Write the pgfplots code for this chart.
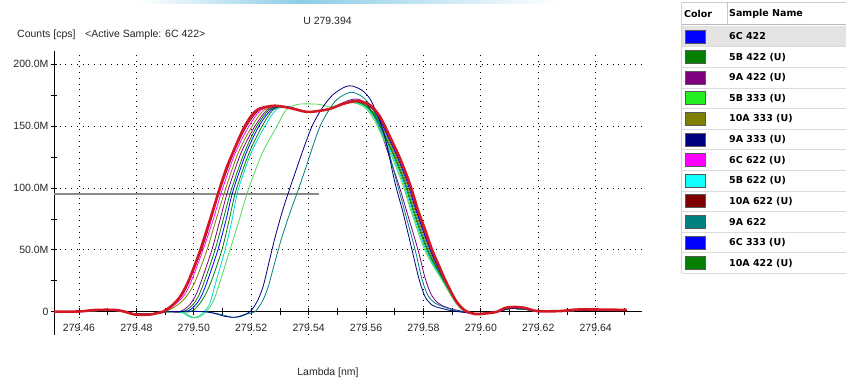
\documentclass[border=0pt]{standalone}
\usepackage{fontspec}
\setmainfont{Liberation Sans}
\newfontfamily\tabfont{DejaVu Sans}
\usepackage{pgfplots}
\pgfplotsset{compat=1.18}
\definecolor{cRed}{RGB}{210,25,35}
\definecolor{cGreen}{HTML}{008000}
\definecolor{cPurple}{HTML}{800080}
\definecolor{cLime}{HTML}{22EE22}
\definecolor{cLimeL}{HTML}{55D855}
\definecolor{cOlive}{HTML}{808000}
\definecolor{cNavy}{HTML}{000080}
\definecolor{cMag}{HTML}{FF00FF}
\definecolor{cCyan}{HTML}{10FFFF}
\definecolor{cCyanL}{HTML}{00D8D8}
\definecolor{cMaroon}{HTML}{800000}
\definecolor{cTeal}{HTML}{008080}
\definecolor{cBlue}{HTML}{0000FF}
\definecolor{cGrayLine}{HTML}{8A8A8A}
\definecolor{cSwoosh}{RGB}{140,205,230}
\begin{document}
\begin{tikzpicture}[x=1pt,y=1pt]
\path[use as bounding box] (0,0) rectangle (846,387);
\shade[left color=white, right color=cSwoosh] (140,383.5) rectangle (300,387);
\shade[left color=cSwoosh, right color=white] (300,383.5) rectangle (560,387);
\begin{axis}[
  at={(54pt,51.8pt)}, anchor=south west,
  scale only axis, width=588.2pt, height=284.5pt,
  xmin=279.4513, xmax=279.6562, ymin=-19, ymax=211,
  axis x line=middle, axis y line=left,
  axis line style={-, black, line width=0.9pt},
  xtick={279.46,279.48,279.50,279.52,279.54,279.56,279.58,279.60,279.62,279.64},
  xticklabels={279.46,279.48,279.50,279.52,279.54,279.56,279.58,279.60,279.62,279.64},
  minor xtick={279.47,279.49,279.51,279.53,279.55,279.57,279.59,279.61,279.63,279.65},
  ytick={0,50,100,150,200}, yticklabels={0,50.0M,100.0M,150.0M,200.0M},
  minor ytick={25,75,125,175},
  tick align=center, major tick length=7pt, minor tick length=7pt,
  tick style={black, line width=0.8pt},
  grid=major,
  major grid style={black, line width=0.8pt, dash pattern=on 0.8pt off 4.9pt},
  tick label style={font=\fontsize{10.5}{12}\selectfont, text=black!85},
  xticklabel style={yshift=-5.5pt},
  yticklabel style={xshift=1.5pt},
  every axis plot/.append style={smooth, tension=0.5, line width=0.8pt},
]
\addplot[cGrayLine, line width=1.9pt, sharp plot] coordinates {(279.4513,95) (279.5436,95)};
% 10A 622 (U)
\addplot[cMaroon] coordinates {(279.4513,0) (279.4603,0.2) (279.4673,1) (279.4725,1) (279.4760,0) (279.4795,-1.8) (279.4847,-1.8) (279.4875,-0.8)
 (279.4896,0) (279.4955,12) (279.4983,24) (279.5027,50) (279.5060,74) (279.5091,98) (279.5138,128) (279.5184,150) (279.5227,163) (279.5272,166)
 (279.5335,164.7) (279.5394,161.5) (279.5440,162.5) (279.5475,164) (279.5520,168)
 (279.5565,169.5) (279.5610,166.5) (279.5645,157) (279.5680,140.5) (279.5715,123.5) (279.5750,102.5) (279.5777,81.5) (279.5826,49.5) (279.5873,26) (279.5909,10) (279.5933,3) (279.5951,0)
 (279.5980,-1.5) (279.6032,-1) (279.6057,0) (279.6102,2.5) (279.6154,2) (279.6196,0.3) (279.6276,0.3) (279.6346,1) (279.6509,1)};
% 6C 622 (U)
\addplot[cMag] coordinates {(279.4513,0) (279.4603,0.2) (279.4673,1) (279.4725,1) (279.4760,0) (279.4795,-1.8) (279.4847,-1.8) (279.4875,-0.8)
 (279.4903,0) (279.4962,12) (279.4990,24) (279.5032,50) (279.5067,74) (279.5098,98) (279.5144,128) (279.5192,150) (279.5234,163) (279.5283,166)
 (279.5335,164.7) (279.5394,161.5) (279.5440,162.5) (279.5475,164) (279.5520,168)
 (279.5567,170.5) (279.5612,167) (279.5647,157.5) (279.5682,141) (279.5716,124) (279.5751,103) (279.5779,82) (279.5828,50) (279.5874,26) (279.5910,10) (279.5934,3) (279.5952,0)
 (279.5980,-1.5) (279.6032,-1) (279.6057,0) (279.6102,2.5) (279.6154,2) (279.6196,0.3) (279.6276,0.3) (279.6346,1) (279.6509,1)};
% 10A 333 (U)
\addplot[cOlive] coordinates {(279.4513,0) (279.4603,0.2) (279.4673,1) (279.4725,1) (279.4760,0) (279.4795,-1.8) (279.4847,-1.8) (279.4875,-0.8)
 (279.4900,0) (279.4941,5) (279.4973,12) (279.5004,24) (279.5046,50) (279.5077,74) (279.5109,98) (279.5154,128) (279.5203,150) (279.5245,163) (279.5293,166)
 (279.5335,164.7) (279.5394,161.5) (279.5440,162.5) (279.5475,164) (279.5520,168)
 (279.5559,169) (279.5604,166) (279.5639,156.5) (279.5674,140.5) (279.5708,123.5) (279.5743,102.5) (279.5771,81.5) (279.5820,49.5) (279.5870,26) (279.5907,10) (279.5931,3) (279.5950,0)
 (279.5980,-1.5) (279.6032,-1) (279.6057,0) (279.6102,2.5) (279.6154,2) (279.6196,0.3) (279.6276,0.3) (279.6346,1) (279.6509,1)};
% 9A 422 (U)
\addplot[cPurple] coordinates {(279.4513,0) (279.4603,0.2) (279.4673,1) (279.4725,1) (279.4760,0) (279.4795,-1.8) (279.4847,-1.8) (279.4875,-0.8) (279.4910,0)
 (279.4952,0) (279.4983,5) (279.5004,12) (279.5025,24) (279.5063,50) (279.5091,74) (279.5119,98) (279.5164,128) (279.5213,150) (279.5255,163) (279.5300,166)
 (279.5335,164.7) (279.5394,161.5) (279.5440,162.5) (279.5475,164) (279.5520,169)
 (279.5562,172) (279.5597,169) (279.5624,160) (279.5652,145) (279.5677,128) (279.5712,104) (279.5743,80) (279.5781,50) (279.5806,27) (279.5827,14) (279.5851,7) (279.5886,3) (279.5921,1) (279.5945,0)
 (279.5980,-1.5) (279.6032,-1) (279.6057,0) (279.6102,2.5) (279.6154,2) (279.6196,0.3) (279.6276,0.3) (279.6346,1) (279.6509,1)};
% 10A 422 (U)
\addplot[cGreen] coordinates {(279.4513,0) (279.4603,0.2) (279.4673,1) (279.4725,1) (279.4760,0) (279.4795,-1.8) (279.4847,-1.8) (279.4875,-0.8) (279.4910,0)
 (279.4962,0) (279.4994,5) (279.5015,12) (279.5036,24) (279.5074,50) (279.5102,74) (279.5130,98) (279.5175,128) (279.5220,150) (279.5262,163) (279.5307,166)
 (279.5335,164.7) (279.5394,161.5) (279.5440,162.5) (279.5475,164) (279.5520,168)
 (279.5555,170) (279.5600,166.5) (279.5635,157) (279.5670,140.5) (279.5704,123.5) (279.5739,102.5) (279.5767,81.5) (279.5816,49.5) (279.5868,26) (279.5906,10) (279.5931,3) (279.5950,0)
 (279.5980,-1.5) (279.6032,-1) (279.6057,0) (279.6102,2.5) (279.6154,2) (279.6196,0.3) (279.6276,0.3) (279.6346,1) (279.6509,1)};
% 6C 333 (U)
\addplot[cBlue] coordinates {(279.4513,0) (279.4603,0.2) (279.4673,1) (279.4725,1) (279.4760,0) (279.4795,-1.8) (279.4847,-1.8) (279.4875,-0.8) (279.4910,0)
 (279.4973,0) (279.5004,5) (279.5025,12) (279.5046,24) (279.5084,50) (279.5112,74) (279.5137,98) (279.5182,128) (279.5227,150) (279.5269,163) (279.5314,166)
 (279.5335,164.7) (279.5394,161.5) (279.5440,162.5) (279.5475,164) (279.5520,168)
 (279.5562,171) (279.5607,167.5) (279.5642,157.5) (279.5677,141) (279.5711,124) (279.5746,103) (279.5774,82) (279.5823,50) (279.5871,26) (279.5908,10) (279.5932,3) (279.5951,0)
 (279.5980,-1.5) (279.6032,-1) (279.6057,0) (279.6102,2.5) (279.6154,2) (279.6196,0.3) (279.6276,0.3) (279.6346,1) (279.6509,1)};
% 5B 422 (U)
\addplot[cGreen] coordinates {(279.4513,0) (279.4603,0.2) (279.4673,1) (279.4725,1) (279.4760,0) (279.4795,-1.8) (279.4847,-1.8) (279.4875,-0.8) (279.4910,0)
 (279.4987,0) (279.5015,5) (279.5036,12) (279.5060,24) (279.5098,50) (279.5123,74) (279.5147,98) (279.5192,128) (279.5238,150) (279.5276,163) (279.5321,166)
 (279.5394,161.5) (279.5440,162.5) (279.5475,164) (279.5520,168)
 (279.5552,170) (279.5597,166.5) (279.5632,157) (279.5667,140.5) (279.5701,123.5) (279.5736,102.5) (279.5764,81.5) (279.5813,49.5) (279.5866,26) (279.5906,10) (279.5930,3) (279.5950,0)
 (279.5980,-1.5) (279.6032,-1) (279.6057,0) (279.6102,2.5) (279.6154,2) (279.6196,0.3) (279.6276,0.3) (279.6346,1) (279.6509,1)};
% 5B 622 (U)
\addplot[cCyanL] coordinates {(279.4513,0) (279.4603,0.2) (279.4673,1) (279.4725,1) (279.4760,0) (279.4795,-1.8) (279.4847,-1.8) (279.4875,-0.8) (279.4910,0)
 (279.4952,0) (279.4976,-3) (279.4997,-5) (279.5018,-3.5) (279.5036,0) (279.5053,5) (279.5063,12) (279.5077,24) (279.5109,50) (279.5133,74) (279.5154,98) (279.5199,128) (279.5248,150) (279.5286,163) (279.5328,166)
 (279.5394,161.5) (279.5440,162.5) (279.5475,164) (279.5520,168)
 (279.5548,170) (279.5593,166.5) (279.5628,157) (279.5663,140.5) (279.5697,123.5) (279.5732,102.5) (279.5760,81.5) (279.5809,49.5) (279.5865,26) (279.5905,10) (279.5929,3) (279.5949,0)
 (279.5980,-1.5) (279.6032,-1) (279.6057,0) (279.6102,2.5) (279.6154,2) (279.6196,0.3) (279.6276,0.3) (279.6346,1) (279.6509,1)};
% 5B 333 (U)
\addplot[cLimeL] coordinates {(279.4513,0) (279.4603,0.2) (279.4673,1) (279.4725,1) (279.4760,0) (279.4795,-1.8) (279.4847,-1.8) (279.4875,-0.8) (279.4910,0)
 (279.4959,0) (279.4983,-3) (279.5004,-5) (279.5025,-3.5) (279.5043,0) (279.5060,5) (279.5074,12) (279.5091,24) (279.5126,50) (279.5158,74) (279.5189,98) (279.5238,128) (279.5290,150) (279.5321,163) (279.5360,167.5) (279.5405,168) (279.5440,167.5) (279.5475,165.5) (279.5520,168)
 (279.5545,169.5) (279.5590,166) (279.5625,156.5) (279.5660,140) (279.5694,123) (279.5729,102) (279.5757,81) (279.5806,49) (279.5863,26) (279.5904,10) (279.5928,3) (279.5949,0)
 (279.5980,-1.5) (279.6032,-1) (279.6057,0) (279.6102,2.5) (279.6154,2) (279.6196,0.3) (279.6276,0.3) (279.6346,1) (279.6509,1)};
% 9A 622
\addplot[cTeal] coordinates {(279.4513,0) (279.4603,0.2) (279.4673,1) (279.4725,1) (279.4760,0) (279.4795,-1.8) (279.4847,-1.8) (279.4875,-0.8) (279.4910,0) (279.4980,0.3)
 (279.5039,0) (279.5091,-2) (279.5133,-4.5) (279.5161,-4) (279.5189,-1.5) (279.5213,0) (279.5238,8) (279.5259,20) (279.5280,38) (279.5304,58) (279.5332,78) (279.5363,98) (279.5391,117) (279.5415,134) (279.5440,150) (279.5468,162) (279.5492,170) (279.5520,175) (279.5551,177.4)
 (279.5586,174) (279.5614,167) (279.5642,155) (279.5670,137) (279.5708,104) (279.5736,80) (279.5771,50) (279.5795,26) (279.5816,13) (279.5840,7) (279.5875,3.5) (279.5910,1) (279.5934,0)
 (279.5980,-1.5) (279.6032,-1) (279.6057,0) (279.6102,2.5) (279.6154,2) (279.6196,0.3) (279.6276,0.3) (279.6346,1) (279.6509,1)};
% 9A 333 (U)
\addplot[cNavy] coordinates {(279.4513,0) (279.4603,0.2) (279.4673,1) (279.4725,1) (279.4760,0) (279.4795,-1.8) (279.4847,-1.8) (279.4875,-0.8) (279.4910,0) (279.4980,0.3)
 (279.5039,0) (279.5074,-1.5) (279.5109,-3.8) (279.5144,-4.5) (279.5171,-2.8) (279.5196,0) (279.5220,8) (279.5241,20) (279.5262,40) (279.5283,60) (279.5307,80) (279.5332,98) (279.5360,117) (279.5384,133) (279.5412,150) (279.5440,162) (279.5464,170) (279.5485,175.5) (279.5509,179.5) (279.5530,182) (279.5551,182.5)
 (279.5586,179) (279.5614,172) (279.5638,160) (279.5666,141) (279.5701,104) (279.5729,80) (279.5760,50) (279.5785,26) (279.5806,12) (279.5830,5.4) (279.5858,3) (279.5893,1) (279.5921,0)
 (279.5980,-1.5) (279.6032,-1) (279.6057,0) (279.6102,2.5) (279.6154,2) (279.6196,0.3) (279.6276,0.3) (279.6346,1) (279.6509,1)};
% 6C 422 (active sample)
\addplot[cRed, line width=2.6pt] coordinates {(279.4513,0) (279.4603,0.2) (279.4656,1.4) (279.4725,1.4) (279.4760,0) (279.4795,-2.3) (279.4847,-2.3) (279.4875,-1)
 (279.4893,0) (279.4924,5) (279.4952,12) (279.4980,24) (279.5004,38) (279.5023,50) (279.5056,74) (279.5088,98) (279.5112,115) (279.5135,128) (279.5161,142) (279.5178,150) (279.5199,158) (279.5220,163) (279.5241,165) (279.5283,166.5)
 (279.5335,164.7) (279.5394,161.5) (279.5440,162.5) (279.5475,164) (279.5520,168)
 (279.5569,170.3) (279.5614,167) (279.5649,157.5) (279.5684,141) (279.5718,124) (279.5753,103) (279.5781,82) (279.5806,66) (279.5830,50) (279.5858,35) (279.5875,26) (279.5910,10) (279.5934,3) (279.5952,0)
 (279.5980,-1.9) (279.5997,-1.9) (279.6032,-1) (279.6057,0) (279.6084,3) (279.6119,3.8) (279.6154,3) (279.6196,0.5) (279.6276,0.5) (279.6346,1.8) (279.6509,1.4)};
\end{axis}
% titles
\node[font=\fontsize{10.5}{12}\selectfont, text=black!85] at (327.5,366) {U 279.394};
\node[anchor=west, font=\fontsize{10.5}{12}\selectfont, text=black!85, inner sep=0] at (17,352) {Counts [cps]};
\node[anchor=west, font=\fontsize{10.5}{12}\selectfont, text=black!85, inner sep=0] at (85,352) {<Active Sample: 6C 422>};
\node[font=\fontsize{10.5}{12}\selectfont, text=black!85] at (328,14) {Lambda [nm]};
% sample table
\fill[gray!22] (682,361) rectangle (846,340.2);
\draw[gray!40, line width=0.6pt] (681.5,384.3) -- (846,384.3);
\draw[gray!55, line width=0.6pt] (681.5,362.5) -- (846,362.5);
\draw[gray!45, line width=0.6pt] (727,384.3) -- (727,362.5);
\draw[gray!35, line width=0.6pt] (681.5,384.3) -- (681.5,113.5);
\node[anchor=west, inner sep=0, font=\tabfont\bfseries\fontsize{9.5}{11}\selectfont] at (684,373.5) {Color};
\node[anchor=west, inner sep=0, font=\tabfont\bfseries\fontsize{9.5}{11}\selectfont] at (729,373.5) {Sample Name};
\foreach \i/\c/\n in {0/cBlue/6C 422, 1/cGreen/5B 422 (U), 2/cPurple/9A 422 (U), 3/cLime/5B 333 (U), 4/cOlive/10A 333 (U), 5/cNavy/9A 333 (U), 6/cMag/6C 622 (U), 7/cCyan/5B 622 (U), 8/cMaroon/10A 622 (U), 9/cTeal/9A 622, 10/cBlue/6C 333 (U), 11/cGreen/10A 422 (U)} {
  \pgfmathsetmacro\yc{350.5-20.6*\i}
  \draw[gray!28, line width=0.6pt] (681.5,\yc-10.3) -- (846,\yc-10.3);
  \filldraw[fill=\c, draw=black!65, line width=0.6pt] (685,\yc-6.5) rectangle (705,\yc+6.5);
  \node[anchor=west, inner sep=0, font=\tabfont\bfseries\fontsize{9.5}{11}\selectfont] at (729,\yc) {\n};
}
\end{tikzpicture}
\end{document}
